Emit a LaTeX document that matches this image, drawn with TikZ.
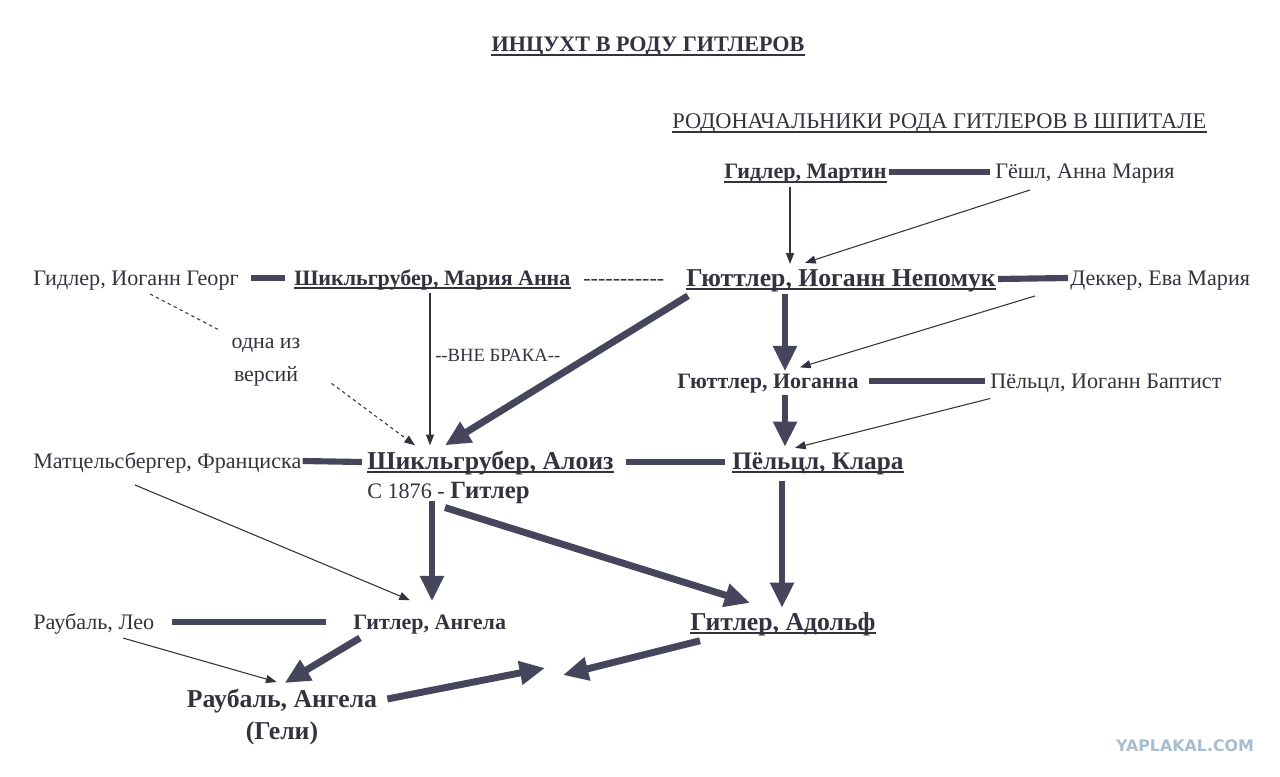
\documentclass[tikz,border=0pt]{standalone}
\usepackage{fontspec}
\setmainfont{Liberation Serif}
\newfontfamily\wmfont{DejaVu Sans}
\usetikzlibrary{arrows.meta,calc}
\definecolor{ink}{HTML}{33333F}
\definecolor{arr}{HTML}{45455C}
\definecolor{wm}{HTML}{A9BDD0}
\begin{document}
\begin{tikzpicture}[x=0.75pt,y=-0.75pt,
  txt/.style={font=\fontsize{16.6}{20}\selectfont, anchor=base west, inner sep=0pt, text=ink},
  bname/.style={txt, font=\fontsize{16.5}{20}\selectfont\bfseries},
  bbig/.style={txt, font=\fontsize{19.3}{23}\selectfont\bfseries},
  ul/.style={append after command={([yshift=-2.4pt]\tikzlastnode.base west) edge[draw=ink, line width=1.1pt] ([yshift=-2.4pt]\tikzlastnode.base east)}},
  wed/.style={draw=arr, line width=4.6pt},
  bigarrow/.style={draw=arr, line width=5.2pt, -{Triangle[length=19pt,width=17pt]}},
  thinarrow/.style={draw=ink, line width=0.8pt, -{Triangle[length=8pt,width=6pt]}},
  dashln/.style={draw=ink, line width=0.8pt, dash pattern=on 2.5pt off 2.5pt},
]
\useasboundingbox[fill=white] (0,0) rectangle (1280,777);

% titles
\node[bname, font=\fontsize{16.6}{20}\selectfont\bfseries, anchor=base, ul] (title) at (648,52) {ИНЦУХТ В РОДУ ГИТЛЕРОВ};
\node[txt, font=\fontsize{16.8}{20}\selectfont, ul] (sub) at (672,129) {РОДОНАЧАЛЬНИКИ РОДА ГИТЛЕРОВ В ШПИТАЛЕ};

% people
\node[bname, ul] (martin) at (724,179) {Гидлер, Мартин};
\node[txt] (geshl) at (995,179) {Гёшл, Анна Мария};
\node[bbig, ul] (nepomuk) at (686,286) {Гюттлер, Иоганн Непомук};
\node[txt] (dekker) at (1070,285) {Деккер, Ева Мария};
\node[txt] (georg) at (33,285) {Гидлер, Иоганн Георг};
\node[bname, ul] (maria) at (294,285) {Шикльгрубер, Мария Анна};
\node[txt] (dashes) at (583,285) {-{}-{}-{}-{}-{}-{}-{}-{}-{}-{}-};
\node[bname] (iogana) at (677,388) {Гюттлер, Иоганна};
\node[txt] (baptist) at (990,388) {Пёльцл, Иоганн Баптист};
\node[txt, anchor=center, align=center, font=\fontsize{16.4}{25}\selectfont] (odna) at (266,362) {одна из\\версий};
\node[txt, font=\fontsize{14}{16}\selectfont] (vne) at (435,361) {-{}-ВНЕ БРАКА-{}-};
\node[txt] (franz) at (33,468) {Матцельсбергер, Франциска};
\node[bbig, ul] (aloiz) at (367,469) {Шикльгрубер, Алоиз};
\node[bbig, font=\fontsize{18.9}{23}\selectfont\bfseries, ul] (klara) at (732,469) {Пёльцл, Клара};
\node[txt] (s1876) at (367,498) {С 1876 - \textbf{\fontsize{18.6}{22}\selectfont Гитлер}};
\node[txt] (leo) at (33,629) {Раубаль, Лео};
\node[bname] (angela) at (353,629) {Гитлер, Ангела};
\node[bbig, ul] (adolf) at (690,630) {Гитлер, Адольф};
\node[bbig, anchor=north, align=center, font=\fontsize{19.3}{24}\selectfont\bfseries] (geli) at (282,689) {Раубаль, Ангела\\(Гели)};

\node[inner sep=0pt, text=wm, font=\wmfont\bfseries\fontsize{11.9}{14}\selectfont] (wmk) at (1185,746) {YAPLAKAL.COM};

% helper coordinates
\coordinate (meet) at (554,671);

% marriage lines
\draw[wed] ($(martin.base east)+(2,-7)$) -- ($(geshl.base west)+(-5,-7)$);
\draw[wed] ($(nepomuk.base east)+(2,-7)$) -- ($(dekker.base west)+(-2,-7)$);
\draw[wed] ($(georg.base east)+(12,-7)$) -- ($(maria.base west)+(-9,-7)$);
\draw[wed] ($(iogana.base east)+(10,-7)$) -- ($(baptist.base west)+(-5,-7)$);
\draw[wed] ($(franz.base east)+(1,-7)$) -- ($(aloiz.base west)+(-5,-7)$);
\draw[wed] ($(aloiz.base east)+(12,-7)$) -- ($(klara.base west)+(-7,-7)$);
\draw[wed] ($(leo.base east)+(17,-7)$) -- ($(angela.base west)+(-27,-7)$);

% thin arrows
\draw[thinarrow] ($(martin.south west)+(66,3)$) -- ($(nepomuk.north west)+(104,-5)$);
\draw[thinarrow] ($(geshl.south west)+(35,6)$) -- ($(nepomuk.north west)+(119,-6)$);
\draw[thinarrow] ($(dekker.south west)+(-35,6)$) -- ($(iogana.north west)+(123,-6)$);
\draw[thinarrow] ($(baptist.south west)+(0,6)$) -- ($(klara.north west)+(63,-4)$);
\draw[thinarrow] ($(maria.south west)+(136,3)$) -- ($(aloiz.north west)+(63,-5)$);
\draw[thinarrow] ($(franz.south west)+(102,12)$) -- ($(angela.north west)+(57,-14)$);
\draw[thinarrow] ($(leo.south west)+(90,4)$) -- ($(geli.north west)+(90,-7)$);

% dashed
\draw[dashln] ($(georg.south west)+(117,4)$) -- ($(odna.north west)+(-13,-8)$);
\draw[dashln, -{Triangle[length=8pt,width=6pt]}] ($(odna.south east)+(31,-3)$) -- ($(aloiz.north west)+(48,-5)$);

% big arrows
\draw[bigarrow] ($(nepomuk.south west)+(99,2)$) -- ($(iogana.north west)+(108,-2)$);
\draw[bigarrow] ($(iogana.south west)+(108,2)$) -- ($(klara.north west)+(53,-5)$);
\draw[bigarrow] ($(nepomuk.south west)+(2,4)$) -- ($(aloiz.north west)+(78,-5)$);
\draw[bigarrow] ($(s1876.south west)+(65,-3)$) -- ($(angela.north west)+(79,-13)$);
\draw[bigarrow] ($(s1876.south west)+(78,4)$) -- ($(adolf.north west)+(60,-9)$);
\draw[bigarrow] ($(klara.south west)+(50,6)$) -- ($(adolf.north west)+(92,-4)$);
\draw[bigarrow] ($(angela.south west)+(7,4)$) -- ($(geli.north west)+(98,-6)$);
\draw[bigarrow] ($(geli.north east)+(10,10)$) -- ($(meet)+(-9,-3)$);
\draw[bigarrow] ($(adolf.south west)+(10,5)$) -- ($(meet)+(9,4)$);
\end{tikzpicture}
\end{document}
